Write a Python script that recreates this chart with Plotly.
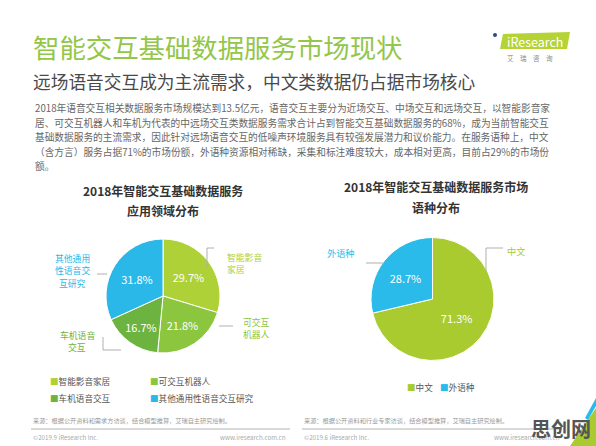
import plotly.graph_objects as go

W, H = 596, 446

# ---------------- data ----------------
app_labels = ["智能影音家居", "可交互机器人", "车机语音交互", "其他通用性语音交互研究"]
app_values = [29.7, 21.8, 16.7, 31.8]
app_colors = ["#aed137", "#8cc63f", "#6db33f", "#29b8e8"]

lang_labels = ["中文", "外语种"]
lang_values = [71.3, 28.7]
lang_colors = ["#a9cb2f", "#2bbbea"]

title = "智能交互基础数据服务市场现状"
subtitle = "远场语音交互成为主流需求，中文类数据仍占据市场核心"
para_lines = [
    "2018年语音交互相关数据服务市场规模达到13.5亿元，语音交互主要分为近场交互、中场交互和远场交互，以智能影音家",
    "居、可交互机器人和车机为代表的中远场交互类数据服务需求合计占到智能交互基础数据服务的68%，成为当前智能交互",
    "基础数据服务的主流需求，因此针对远场语音交互的低噪声环境服务具有较强发展潜力和议价能力。在服务语种上，中文",
    "（含方言）服务占据71%的市场份额，外语种资源相对稀缺，采集和标注难度较大，成本相对更高，目前占29%的市场份",
    "额。",
]
left_title = ["2018年智能交互基础数据服务", "应用领域分布"]
right_title = ["2018年智能交互基础数据服务市场", "语种分布"]
left_callouts = [["智能影音", "家居"], ["可交互", "机器人"], ["车机语音", "交互"], ["其他通用", "性语音交", "互研究"]]
right_callouts = ["中文", "外语种"]
left_source = "来源：根据公开资料和需求方访谈，结合模型推算，艾瑞自主研究绘制。"
right_source = "来源：根据公开资料和行业专家访谈，结合模型推算，艾瑞自主研究绘制。"
left_copy = "©2019.9 iResearch Inc."
right_copy = "©2019.6 iResearch Inc."
site = "www.iresearch.com.cn"

FONT = "Noto Sans CJK SC"


def X(p):
    return p / W


def Y(p):
    return 1 - p / H


def dom(cx, cy, r):
    return dict(x=[X(cx - r), X(cx + r)], y=[Y(cy + r), Y(cy - r)])


fig = go.Figure()

fig.add_trace(go.Pie(
    labels=app_labels, values=app_values, sort=False, direction="clockwise",
    marker=dict(colors=app_colors, line=dict(color="white", width=1)),
    texttemplate="%{value:.1f}%", textposition="inside",
    insidetextorientation="horizontal",
    textfont=dict(color="white", size=11, family=FONT),
    domain=dom(163, 296, 57), showlegend=False, hoverinfo="label+percent",
))
fig.add_trace(go.Pie(
    labels=lang_labels, values=lang_values, sort=False, direction="clockwise",
    marker=dict(colors=lang_colors, line=dict(color="white", width=1)),
    texttemplate="%{value:.1f}%", textposition="inside",
    insidetextorientation="horizontal",
    textfont=dict(color="white", size=11, family=FONT),
    domain=dom(432.5, 299, 61.5), showlegend=False, hoverinfo="label+percent",
))

ann = []


def text(x, y, s, size, color, xanchor="left", bold=False, align="left", yanchor="middle"):
    if bold:
        s = "<b>" + s + "</b>"
    ann.append(dict(x=X(x), y=Y(y), xref="paper", yref="paper", text=s,
                    showarrow=False, xanchor=xanchor, yanchor=yanchor, align=align,
                    font=dict(family=FONT, size=size, color=color)))


def block(x, y0, lines, size, color, xanchor="left", step=12.6):
    for i, s in enumerate(lines):
        text(x, y0 + i * step, s, size, color, xanchor=xanchor)


# header
text(31, 47, title, 26.4, "#94c64a")
text(31, 81, subtitle, 17.7, "#4a4a4a")
for i, line in enumerate(para_lines):
    text(33, 108 + i * 14.6, line, 9.7, "#666666")

# chart titles
text(163, 190, left_title[0], 12, "#333333", xanchor="center", bold=True)
text(163, 211, left_title[1], 12, "#333333", xanchor="center", bold=True)
text(436, 186, right_title[0], 12, "#333333", xanchor="center", bold=True)
text(436, 207, right_title[1], 12, "#333333", xanchor="center", bold=True)

# callout labels
block(225, 257, left_callouts[0], 8.8, app_colors[0])
block(241, 322, left_callouts[1], 8.8, app_colors[1])
block(77, 335, left_callouts[2], 8.8, app_colors[2], xanchor="center")
block(72, 258, left_callouts[3], 8.8, app_colors[3], xanchor="center")
text(505, 251, right_callouts[0], 9.2, lang_colors[0])
text(341, 253, right_callouts[1], 9.2, lang_colors[1], xanchor="center")

# legends
def legend_item(x, y, label, color):
    text(x, y, '<span style="color:%s">■</span>%s' % (color, label), 8.6, "#555555")


legend_item(48, 381, app_labels[0], app_colors[0])
legend_item(148, 381, app_labels[1], app_colors[1])
legend_item(48, 398, app_labels[2], app_colors[2])
legend_item(148, 398, app_labels[3], app_colors[3])
legend_item(405, 387, lang_labels[0], lang_colors[0])
legend_item(438, 387, lang_labels[1], lang_colors[1])

# footers
text(31, 420, left_source, 6.2, "#999999")
text(31, 437, left_copy, 6.2, "#aaaaaa")
text(288, 437, site, 6.2, "#aaaaaa", xanchor="right")
text(302, 420, right_source, 6.2, "#999999")
text(302, 437, right_copy, 6.2, "#aaaaaa")
text(562, 437, site, 6.2, "#aaaaaa", xanchor="right")

# logo
text(535, 41, "iResearch", 12.5, "white", xanchor="center")
text(530, 58, "艾　瑞　咨　询", 6.5, "#888888", xanchor="center")
# watermark
text(561, 428, "思创网", 20, "#555555", xanchor="center", bold=True)

shapes = []


def seg(pts, color="#b0b0b0", width=1):
    path = "M " + " L ".join("%f,%f" % (X(a), Y(b)) for a, b in pts)
    shapes.append(dict(type="path", path=path, xref="paper", yref="paper",
                       line=dict(color=color, width=width)))


# leader lines
seg([(214, 248), (207, 248), (207, 268)])
seg([(219, 326), (233, 326)])
seg([(121, 350), (103, 350), (103, 337)])
seg([(97, 274), (107, 274)])
seg([(503, 248), (486, 248), (486, 271)])
seg([(366, 263), (383, 263)])

# footer rules
seg([(31, 429), (290, 429)], color="#cccccc", width=1.5)
seg([(302, 429), (562, 429)], color="#cccccc", width=1.5)

# logo box
shapes.append(dict(type="path", xref="paper", yref="paper",
                   path="M %f,%f L %f,%f L %f,%f L %f,%f Z" % (
                       X(500), Y(49), X(503), Y(34), X(570), Y(32), X(567), Y(49)),
                   fillcolor="#b5d334", line=dict(width=0), layer="below"))
shapes.append(dict(type="circle", xref="paper", yref="paper",
                   x0=X(493), x1=X(497), y0=Y(37), y1=Y(33),
                   fillcolor="#2a4a8a", line=dict(width=0)))

# corner decoration
shapes.append(dict(type="path", xref="paper", yref="paper",
                   path="M %f,%f L %f,%f L %f,%f Z" % (X(570), Y(446), X(596), Y(446), X(596), Y(408)),
                   fillcolor="#a9cb2f", line=dict(width=0)))
shapes.append(dict(type="path", xref="paper", yref="paper",
                   path="M %f,%f L %f,%f L %f,%f L %f,%f Z" % (
                       X(588), Y(420), X(596), Y(406), X(596), Y(398), X(585), Y(418)),
                   fillcolor="#2bbbea", line=dict(width=0)))

fig.update_layout(
    width=W, height=H, margin=dict(l=0, r=0, t=0, b=0),
    paper_bgcolor="white", plot_bgcolor="white",
    annotations=ann, shapes=shapes,
)

fig.write_html("out.html")
